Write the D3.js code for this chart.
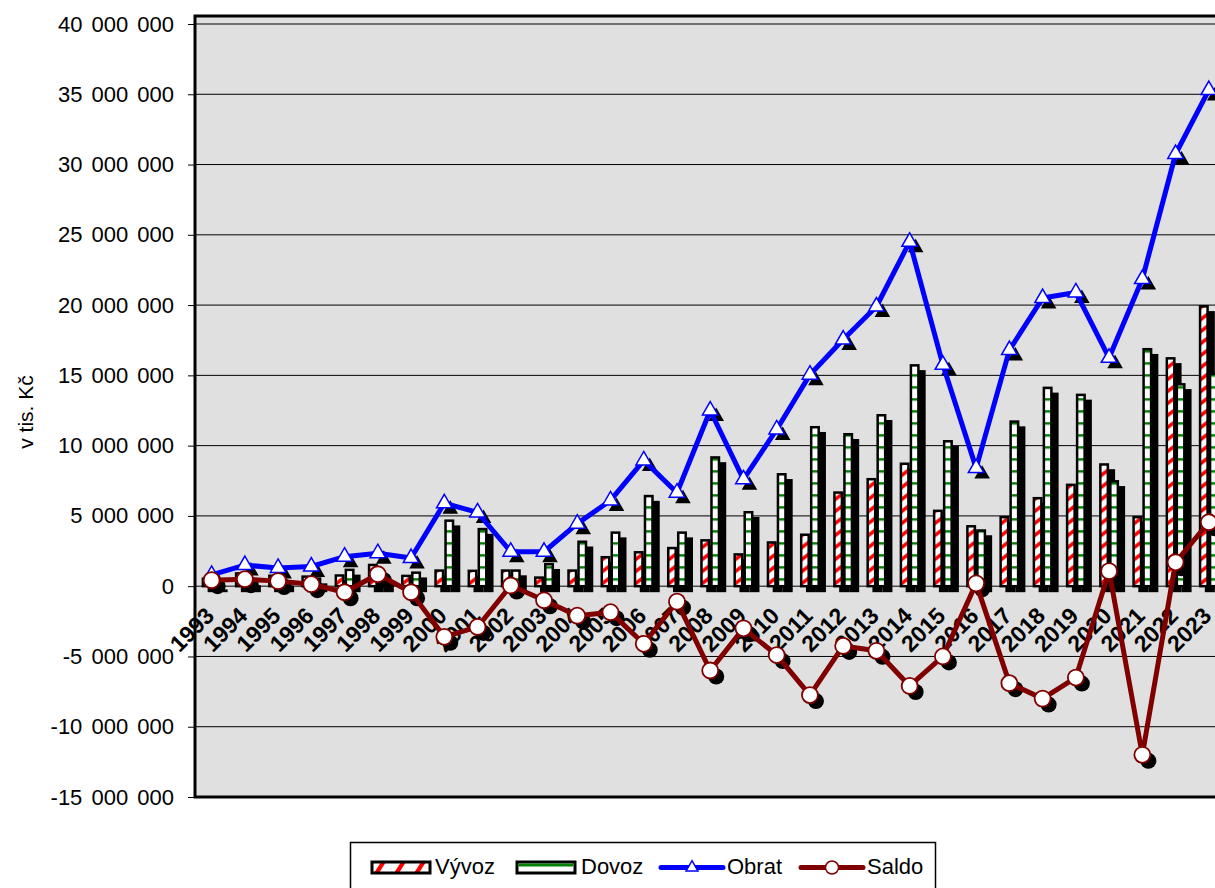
<!DOCTYPE html>
<html>
<head>
<meta charset="utf-8">
<script src="https://cdn.jsdelivr.net/npm/d3@7"></script>
<style>
  html, body { margin: 0; padding: 0; background: #fff; overflow: hidden; }
  svg { display: block; font-family: 'Liberation Sans', Arial, sans-serif; }
</style>
</head>
<body>
<svg id="chart" width="1215" height="888"></svg>
<script>
const years = ['1993', '1994', '1995', '1996', '1997', '1998', '1999', '2000', '2001', '2002',
  '2003', '2004', '2005', '2006', '2007', '2008', '2009', '2010', '2011', '2012',
  '2013', '2014', '2015', '2016', '2017', '2018', '2019', '2020', '2021', '2022', '2023']

// v tis. Kč
const vyvoz = [620000, 1000000, 830000, 770000, 850000, 1600000, 820000, 1200000, 1180000, 1200000,
  700000, 1200000, 2150000, 2500000, 2800000, 3350000, 2350000, 3200000, 3750000, 6750000,
  7700000, 8800000, 5450000, 4350000, 5000000, 6350000, 7300000, 8750000, 5000000, 16300000, 20000000]

const dovoz = [200000, 500000, 470000, 630000, 1250000, 750000, 1050000, 4750000, 4150000, 1200000,
  1650000, 3250000, 3900000, 6500000, 3900000, 9250000, 5350000, 8050000, 11400000, 10900000,
  12250000, 15800000, 10400000, 4050000, 11800000, 14200000, 13700000, 7550000, 16950000, 14450000, 15200000]

const obrat = [800000, 1500000, 1300000, 1400000, 2100000, 2350000, 2000000, 5900000, 5250000, 2450000,
  2450000, 4450000, 6100000, 8950000, 6650000, 12500000, 7600000, 11150000, 15050000, 17550000,
  19900000, 24500000, 15750000, 8400000, 16800000, 20500000, 20900000, 16250000, 21850000, 30750000, 35300000]

const saldo = [430000, 500000, 360000, 140000, -430000, 850000, -430000, -3600000, -2900000, 50000,
  -1000000, -2100000, -1850000, -4100000, -1100000, -6000000, -3000000, -4900000, -7750000, -4250000,
  -4600000, -7100000, -5000000, 200000, -6900000, -8000000, -6500000, 1070000, -12000000, 1700000, 4550000]

const yTicks = [-15000000, -10000000, -5000000, 0, 5000000, 10000000, 15000000, 20000000,
  25000000, 30000000, 35000000, 40000000]

const seriesNames = ['Vývoz', 'Dovoz', 'Obrat', 'Saldo']

const plotLeft = 195
const plotTop = 16
const plotBottom = 797
const plotW = 1100
const step = 33.24
const shadow = 6
const barW = 10
const border = 2.5

const svg = d3.select('#chart')
const defs = svg.append('defs')

// Vývoz fill: white with red slashes
const pv = defs.append('pattern')
  .attr('id', 'vyv')
  .attr('patternUnits', 'userSpaceOnUse')
  .attr('width', 20).attr('height', 12)
pv.append('rect').attr('width', 20).attr('height', 12).attr('fill', '#fff')
pv.append('polygon').attr('points', '0,12 0,7.5 8,1.5 8,6').attr('fill', '#ff0000')

// Dovoz fill: white with green horizontal stripes
const pd = defs.append('pattern')
  .attr('id', 'dov')
  .attr('patternUnits', 'userSpaceOnUse')
  .attr('width', 20).attr('height', 12)
pd.append('rect').attr('width', 20).attr('height', 12).attr('fill', '#fff')
pd.append('rect').attr('y', 4).attr('width', 20).attr('height', 2.5).attr('fill', '#008000')

// legend swatch pattern
const lv = defs.append('pattern')
  .attr('id', 'vyvLeg')
  .attr('patternUnits', 'userSpaceOnUse')
  .attr('width', 20).attr('height', 11)
lv.append('rect').attr('width', 20).attr('height', 11).attr('fill', '#fff')
lv.append('polygon').attr('points', '2,11 9,0 14,0 7,11').attr('fill', '#ff0000')

const x = d3.scaleBand()
  .domain(years)
  .range([plotLeft, plotLeft + years.length * step])

const y = d3.scaleLinear()
  .domain([-15000000, 40000000])
  .range([plotBottom, 24])

const cx = d => x(d) + x.bandwidth() / 2
const y0 = y(0)

const fmt = d3.formatLocale({ decimal: ',', thousands: ' ', grouping: [3], currency: ['', ''], minus: '-' }).format(',d')

// plot background
svg.append('rect')
  .attr('x', plotLeft).attr('y', plotTop)
  .attr('width', plotW).attr('height', plotBottom - plotTop)
  .attr('fill', '#e0e0e0')

// gridlines
svg.append('g')
  .selectAll('line')
  .data(yTicks)
  .enter().append('line')
  .attr('x1', plotLeft).attr('x2', plotLeft + plotW)
  .attr('y1', d => y(d)).attr('y2', d => y(d))
  .attr('stroke', '#000')
  .attr('stroke-width', 1)

// x labels (under the series)
svg.append('g')
  .selectAll('text')
  .data(years)
  .enter().append('text')
  .attr('transform', d => `translate(${cx(d) + 4},${y0 + 31}) rotate(-45)`)
  .attr('text-anchor', 'end')
  .style('font-size', '23px')
  .style('font-weight', 'bold')
  .text(d => d)

const bars = [
  { values: vyvoz, fill: 'url(#vyv)', off: -barW },
  { values: dovoz, fill: 'url(#dov)', off: 0 }
]

// bar shadows
bars.forEach(s => {
  svg.append('g')
    .selectAll('rect')
    .data(years)
    .enter().append('rect')
    .attr('x', d => cx(d) + s.off + shadow)
    .attr('y', (d, i) => y(s.values[i]) + shadow)
    .attr('width', barW)
    .attr('height', (d, i) => y0 - y(s.values[i]))
    .attr('fill', '#000')
})

// bars
bars.forEach(s => {
  const g = svg.append('g')
    .selectAll('g')
    .data(years)
    .enter().append('g')
    .attr('transform', d => `translate(${cx(d) + s.off + border / 2},${y0})`)
  g.append('rect')
    .attr('x', 0)
    .attr('y', (d, i) => y(s.values[i]) - y0 + border / 2)
    .attr('width', barW - border)
    .attr('height', (d, i) => y0 - y(s.values[i]) - border / 2)
    .attr('fill', s.fill)
    .attr('stroke', '#000')
    .attr('stroke-width', border)
})

const tri = d3.symbol().type(d3.symbolTriangle).size(105)
const triSmall = d3.symbol().type(d3.symbolTriangle).size(60)

// Obrat
svg.append('g')
  .selectAll('path')
  .data(years)
  .enter().append('path')
  .attr('d', tri)
  .attr('transform', (d, i) => `translate(${cx(d) + shadow},${y(obrat[i]) + shadow})`)
  .attr('fill', '#000')

svg.append('path')
  .datum(obrat)
  .attr('d', d3.line().x((d, i) => cx(years[i])).y(d => y(d)))
  .attr('fill', 'none')
  .attr('stroke', '#0000ff')
  .attr('stroke-width', 5)
  .attr('stroke-linejoin', 'round')

svg.append('g')
  .selectAll('path')
  .data(years)
  .enter().append('path')
  .attr('d', tri)
  .attr('transform', (d, i) => `translate(${cx(d)},${y(obrat[i])})`)
  .attr('fill', '#fff')
  .attr('stroke', '#0000ff')
  .attr('stroke-width', 1.5)

// Saldo
svg.append('g')
  .selectAll('circle')
  .data(years)
  .enter().append('circle')
  .attr('cx', d => cx(d) + shadow)
  .attr('cy', (d, i) => y(saldo[i]) + shadow)
  .attr('r', 8)
  .attr('fill', '#000')

svg.append('path')
  .datum(saldo)
  .attr('d', d3.line().x((d, i) => cx(years[i])).y(d => y(d)))
  .attr('fill', 'none')
  .attr('stroke', '#800000')
  .attr('stroke-width', 5)
  .attr('stroke-linejoin', 'round')

svg.append('g')
  .selectAll('circle')
  .data(years)
  .enter().append('circle')
  .attr('cx', d => cx(d))
  .attr('cy', (d, i) => y(saldo[i]))
  .attr('r', 8)
  .attr('fill', '#fff')
  .attr('stroke', '#800000')
  .attr('stroke-width', 1.8)

// frame
svg.append('path')
  .attr('d', `M${plotLeft + plotW},${plotTop}H${plotLeft}V${plotBottom}H${plotLeft + plotW}`)
  .attr('fill', 'none')
  .attr('stroke', '#000')
  .attr('stroke-width', 3)

// y axis
const yAxis = svg.append('g')
  .attr('transform', `translate(${plotLeft},0)`)
  .call(d3.axisLeft(y).tickValues(yTicks).tickSize(7).tickPadding(14).tickFormat(fmt))
yAxis.select('.domain').remove()
yAxis.selectAll('line').attr('stroke', '#000')
yAxis.selectAll('text')
  .attr('fill', '#000')
  .style('font-size', '22px')
  .style('word-spacing', '3px')
  .style('font-family', "'Liberation Sans', Arial, sans-serif")

svg.append('text')
  .attr('transform', 'translate(33,412) rotate(-90)')
  .attr('text-anchor', 'middle')
  .style('font-size', '21px')
  .text('v tis. Kč')

// legend
const leg = svg.append('g')
leg.append('rect')
  .attr('x', 350.5).attr('y', 842.5)
  .attr('width', 585).attr('height', 80)
  .attr('fill', '#fff')
  .attr('stroke', '#000')
  .attr('stroke-width', 1.5)

const ly = 867.5
const legItems = [
  { name: seriesNames[0], x0: 372, tx: 435 },
  { name: seriesNames[1], x0: 517, tx: 581 },
  { name: seriesNames[2], x0: 661, tx: 727 },
  { name: seriesNames[3], x0: 801, tx: 867 }
]

const sv = leg.append('g').attr('transform', `translate(${legItems[0].x0},${ly - 5.5})`)
sv.append('rect').attr('width', 58).attr('height', 11)
  .attr('fill', 'url(#vyvLeg)').attr('stroke', '#000').attr('stroke-width', 3)

const sd = leg.append('g').attr('transform', `translate(${legItems[1].x0},${ly - 5.5})`)
sd.append('rect').attr('width', 58).attr('height', 11)
  .attr('fill', '#fff').attr('stroke', '#000').attr('stroke-width', 3)
sd.append('rect').attr('x', 1.5).attr('y', 1.5).attr('width', 55).attr('height', 3).attr('fill', '#008000')

leg.append('line')
  .attr('x1', legItems[2].x0).attr('x2', legItems[2].x0 + 62)
  .attr('y1', ly).attr('y2', ly)
  .attr('stroke', '#0000ff').attr('stroke-width', 5).attr('stroke-linecap', 'round')
leg.append('path')
  .attr('d', triSmall)
  .attr('transform', `translate(${legItems[2].x0 + 31},${ly})`)
  .attr('fill', '#fff').attr('stroke', '#0000ff').attr('stroke-width', 1.5)

leg.append('line')
  .attr('x1', legItems[3].x0).attr('x2', legItems[3].x0 + 62)
  .attr('y1', ly).attr('y2', ly)
  .attr('stroke', '#800000').attr('stroke-width', 5).attr('stroke-linecap', 'round')
leg.append('circle')
  .attr('cx', legItems[3].x0 + 31).attr('cy', ly).attr('r', 6.5)
  .attr('fill', '#fff').attr('stroke', '#800000').attr('stroke-width', 1.5)

leg.selectAll('text.lab')
  .data(legItems)
  .enter().append('text')
  .attr('class', 'lab')
  .attr('x', d => d.tx)
  .attr('y', ly + 6)
  .style('font-size', '22px')
  .text(d => d.name)
</script>
</body>
</html>
